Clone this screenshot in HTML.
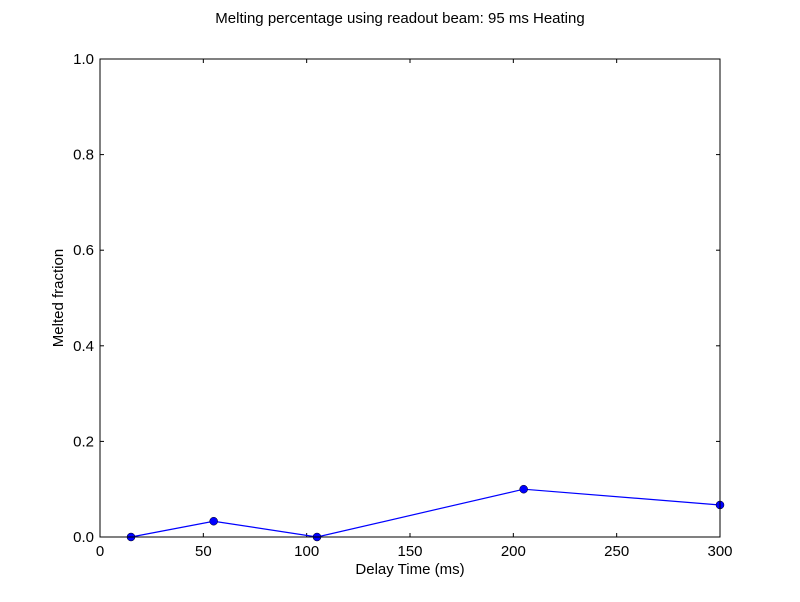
<!DOCTYPE html>
<html><head><meta charset="utf-8"><style>
body{margin:0;background:#fff;}
svg text{font-family:"Liberation Sans",sans-serif;fill:#000;}
</style></head><body>
<svg width="800" height="597" viewBox="0 0 800 597" xmlns="http://www.w3.org/2000/svg">
<rect width="800" height="597" fill="#fff"/>
<text x="400" y="23" font-size="15" text-anchor="middle">Melting percentage using readout beam: 95 ms Heating</text>
<g id="ticks"></g>
<polyline id="line" fill="none" stroke="#0000ff" stroke-width="1.2"/>
<g id="pts"></g>
<rect x="100" y="59" width="620" height="478" fill="none" stroke="#000" stroke-width="1"/>
<text x="410" y="574" font-size="15" text-anchor="middle">Delay Time (ms)</text>
<text transform="translate(63,298) rotate(-90)" font-size="15" text-anchor="middle">Melted fraction</text>
</svg>
<script>
const xValues=[15,55,105,205,300];
const yValues=[0,0.033,0,0.1,0.067];
const xTicks=[0,50,100,150,200,250,300];
const yTicks=[0,0.2,0.4,0.6,0.8,1.0];
const L=100,R=720,T=59,B=537;
const sx=v=>L+v/300*(R-L), sy=v=>B-v/1*(B-T);
const NS='http://www.w3.org/2000/svg';
const tg=document.getElementById('ticks');
function mk(tag,attrs,parent){const e=document.createElementNS(NS,tag);for(const k in attrs)e.setAttribute(k,attrs[k]);parent.appendChild(e);return e;}
xTicks.forEach(t=>{const x=sx(t);
 const a=mk('line',{x1:x,x2:x,y1:B,y2:B-4,stroke:'#000'},tg);
 
 
 mk('line',{x1:x,x2:x,y1:T,y2:T+4,stroke:'#000'},tg);
 const l=mk('text',{x:x,y:B+19,'font-size':15,'text-anchor':'middle'},tg);l.textContent=t;
 
 
});
yTicks.forEach(t=>{const y=sy(t);
 const a=mk('line',{x1:L,x2:L+4,y1:y,y2:y,stroke:'#000'},tg);
 
 
 mk('line',{x1:R,x2:R-4,y1:y,y2:y,stroke:'#000'},tg);
 const l=mk('text',{x:L-6,y:y+5,'font-size':15,'text-anchor':'end'},tg);l.textContent=t.toFixed(1);
 
 
});
document.getElementById('line').setAttribute('points',xValues.map((x,i)=>sx(x)+','+sy(yValues[i])).join(' '));
const pg=document.getElementById('pts');
xValues.forEach((x,i)=>{const c=mk('circle',{cx:sx(x),cy:sy(yValues[i]),r:4,fill:'#0000ff',stroke:'#000','stroke-width':0.5},pg);
 
 
});
</script>
</body></html>
